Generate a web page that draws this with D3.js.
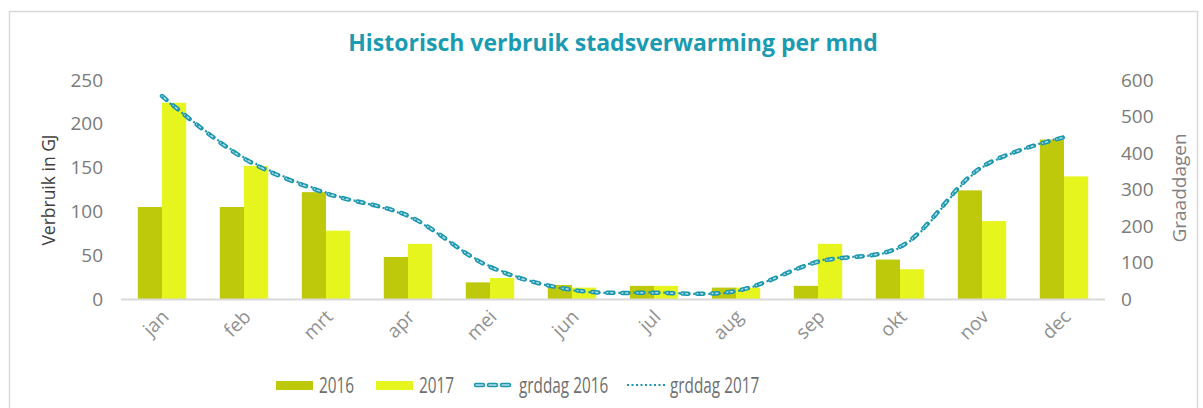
<!DOCTYPE html>
<html>
<head>
<meta charset="utf-8">
<script src="https://cdn.jsdelivr.net/npm/d3@7"></script>
<style>
  body { margin: 0; background: #fff; }
  text { font-family: "Open Sans", sans-serif; }
</style>
</head>
<body>
<script>
const months = ['jan', 'feb', 'mrt', 'apr', 'mei', 'jun', 'jul', 'aug', 'sep', 'okt', 'nov', 'dec']
const verbruik2016 = [105, 105, 122, 48, 19, 16, 15, 13, 15, 45, 124, 182]
const verbruik2017 = [224, 152, 78, 63, 24, 13, 15, 13, 63, 34, 89, 140]
const grddag2016 = [556, 385, 290, 228, 88, 25, 17, 22, 102, 143, 362, 443]
const grddag2017 = [554, 388, 292, 226, 90, 24, 18, 21, 104, 141, 360, 445]
const leftTicks = [0, 50, 100, 150, 200, 250]
const rightTicks = [0, 100, 200, 300, 400, 500, 600]

const W = 1203, H = 408
const c2016 = '#bec90c', c2017 = '#e7f51f', teal = '#1b97ae'

const svg = d3.select('body').append('svg')
  .attr('width', W)
  .attr('height', H)

// chart border
svg.append('rect')
  .attr('x', 9.5).attr('y', 11.5)
  .attr('width', 1188).attr('height', 420)
  .attr('fill', 'none')
  .attr('stroke', '#d9d9d9')
  .attr('stroke-width', 1.5)

svg.append('text')
  .attr('x', 613).attr('y', 51)
  .attr('text-anchor', 'middle')
  .style('font-size', '23px')
  .style('font-weight', 'bold')
  .style('fill', '#1a9bb1')
  .text('Historisch verbruik stadsverwarming per mnd')

const x0 = d3.scaleBand()
  .domain(months)
  .range([121, 1105])
  .paddingInner(0.41)
  .paddingOuter(0.205)

const x1 = d3.scaleBand()
  .domain(['2016', '2017'])
  .range([0, x0.bandwidth()])

const yL = d3.scaleLinear().domain([0, 250]).range([299, 80])
const yR = d3.scaleLinear().domain([0, 600]).range([299, 80])

// left axis
const axL = svg.append('g')
  .attr('transform', 'translate(103,0)')
  .call(d3.axisLeft(yL).tickValues(leftTicks).tickSize(0).tickPadding(0))
axL.select('.domain').remove()
axL.selectAll('text').style('font-size', '19px').style('fill', '#7a7a7a').style('font-family', '"Open Sans", sans-serif')

// right axis
const axR = svg.append('g')
  .attr('transform', 'translate(1121,0)')
  .call(d3.axisRight(yR).tickValues(rightTicks).tickSize(0).tickPadding(0))
axR.select('.domain').remove()
axR.selectAll('text').style('font-size', '19px').style('fill', '#7a7a7a').style('font-family', '"Open Sans", sans-serif')

svg.append('text')
  .attr('transform', 'translate(55,190) rotate(-90) scale(0.92,1)')
  .attr('text-anchor', 'middle')
  .style('font-size', '19px')
  .style('fill', '#404040')
  .text('Verbruik in GJ')

svg.append('text')
  .attr('transform', 'translate(1186,188) rotate(-90)')
  .attr('text-anchor', 'middle')
  .style('font-size', '19px')
  .style('fill', '#808080')
  .text('Graaddagen')

// bars
const groups = svg.selectAll('.month')
  .data(months)
  .enter().append('g')
    .attr('class', 'month')
    .attr('transform', m => 'translate(' + x0(m) + ',0)')

groups.append('rect')
  .attr('x', x1('2016'))
  .attr('width', x1.bandwidth())
  .attr('y', (m, i) => yL(verbruik2016[i]))
  .attr('height', (m, i) => yL(0) - yL(verbruik2016[i]))
  .attr('fill', c2016)

groups.append('rect')
  .attr('x', x1('2017'))
  .attr('width', x1.bandwidth())
  .attr('y', (m, i) => yL(verbruik2017[i]))
  .attr('height', (m, i) => yL(0) - yL(verbruik2017[i]))
  .attr('fill', c2017)

// baseline
svg.append('line')
  .attr('x1', 121).attr('x2', 1105)
  .attr('y1', yL(0) + 0.5).attr('y2', yL(0) + 0.5)
  .attr('stroke', '#d9d9d9')
  .attr('stroke-width', 2)

// x labels
svg.selectAll('.xlab')
  .data(months)
  .enter().append('text')
    .attr('class', 'xlab')
    .attr('text-anchor', 'end')
    .attr('transform', m => 'translate(' + (x0(m) + x0.bandwidth() / 2 + 8) + ',318) rotate(-45)')
    .style('font-size', '19px')
    .style('fill', '#909090')
    .text(m => m)

// lines
const line = vals => d3.line()
  .x((d, i) => x0(months[i]) + x0.bandwidth() / 2)
  .y(d => yR(d))
  .curve(d3.curveCatmullRom.alpha(0.5))(vals)

svg.append('path')
  .attr('d', line(grddag2016))
  .attr('fill', 'none')
  .attr('stroke', teal)
  .attr('stroke-width', 4.5)
  .attr('stroke-linecap', 'round')
  .attr('stroke-dasharray', '6,9')

svg.append('path')
  .attr('d', line(grddag2016))
  .attr('fill', 'none')
  .attr('stroke', '#b5e0e8')
  .attr('stroke-width', 1.5)
  .attr('stroke-linecap', 'round')
  .attr('stroke-dasharray', '6,9')

svg.append('path')
  .attr('d', line(grddag2017))
  .attr('fill', 'none')
  .attr('stroke', teal)
  .attr('stroke-width', 2.2)
  .attr('stroke-dasharray', '2,3')

// legend
const legend = svg.append('g').attr('class', 'legend')
const ly = 385

legend.append('rect').attr('x', 276).attr('y', ly - 4).attr('width', 37).attr('height', 9).attr('fill', c2016)
legend.append('text').attr('transform', 'translate(319,' + (ly + 8) + ') scale(0.73,1)').text('2016')
legend.append('rect').attr('x', 376).attr('y', ly - 4).attr('width', 37).attr('height', 9).attr('fill', c2017)
legend.append('text').attr('transform', 'translate(419,' + (ly + 8) + ') scale(0.73,1)').text('2017')

legend.append('line').attr('x1', 476).attr('x2', 514).attr('y1', ly).attr('y2', ly)
  .attr('stroke', teal).attr('stroke-width', 4.5).attr('stroke-linecap', 'round').attr('stroke-dasharray', '7,6')
legend.append('line').attr('x1', 476).attr('x2', 514).attr('y1', ly).attr('y2', ly)
  .attr('stroke', '#b5e0e8').attr('stroke-width', 1.5).attr('stroke-linecap', 'round').attr('stroke-dasharray', '7,6')
legend.append('text').attr('transform', 'translate(519,' + (ly + 8) + ') scale(0.73,1)').text('grddag 2016')

legend.append('line').attr('x1', 627).attr('x2', 665).attr('y1', ly).attr('y2', ly)
  .attr('stroke', teal).attr('stroke-width', 2).attr('stroke-dasharray', '2,2.5')
legend.append('text').attr('transform', 'translate(670,' + (ly + 8) + ') scale(0.73,1)').text('grddag 2017')

legend.selectAll('text')
  .style('font-size', '21px')
  .style('fill', '#6e6e6e')
</script>
</body>
</html>
